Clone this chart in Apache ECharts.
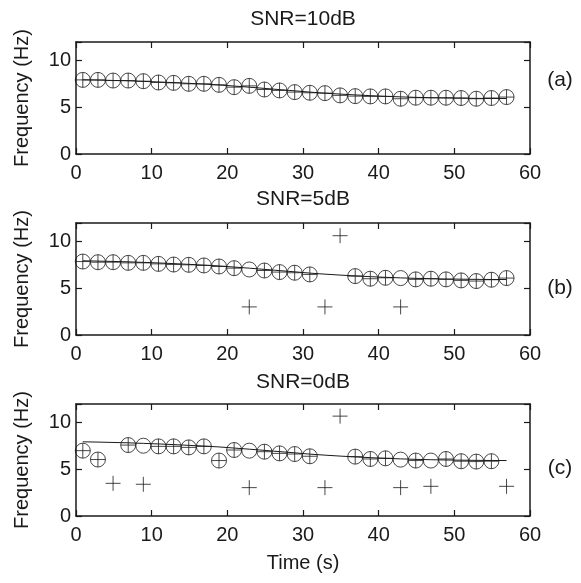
<!DOCTYPE html>
<html>
<head>
<meta charset="utf-8">
<script src="https://cdn.jsdelivr.net/npm/echarts@6/dist/echarts.min.js"></script>
<style>
html,body{margin:0;padding:0;background:#fff;}
#chart{width:581px;height:583px;}
</style>
</head>
<body>
<div id="chart"></div>
<script>
// ---- data ----
const timeS = [0.9,2.9,4.9,6.9,8.9,10.9,12.9,14.9,16.9,18.9,20.9,22.9,24.9,26.9,28.9,30.9,32.9,34.9,36.9,38.9,40.9,42.9,44.9,46.9,48.9,50.9,52.9,54.9,56.9];
const xTicks = [0,10,20,30,40,50,60];
const yTicks = [0,5,10];
const titles = ['SNR=10dB','SNR=5dB','SNR=0dB'];
const panelTags = ['(a)','(b)','(c)'];

// reference (true) frequency line
const trueFreq = [7.95,7.92,7.88,7.84,7.78,7.72,7.65,7.57,7.49,7.40,7.28,7.16,7.03,6.90,6.77,6.63,6.52,6.42,6.33,6.25,6.18,6.12,6.07,6.03,6.00,5.98,5.96,5.95,5.94];

// SNR = 10 dB
const snr10Circle = [7.94,7.94,7.87,7.87,7.80,7.66,7.62,7.52,7.52,7.41,7.16,7.30,6.91,6.81,6.63,6.56,6.52,6.28,6.20,6.17,6.17,5.92,6.03,6.03,6.03,6.00,5.92,6.00,6.10];
const snr10Plus   = [7.94,7.94,7.87,7.87,7.80,7.66,7.62,7.52,7.52,7.41,7.16,7.30,6.91,6.81,6.63,6.56,6.52,6.28,6.20,6.17,6.17,5.92,6.03,6.03,6.03,6.00,5.92,6.00,6.10];

// SNR = 5 dB
const snr5Circle = [7.87,7.80,7.80,7.73,7.73,7.62,7.55,7.52,7.45,7.34,7.16,7.02,6.91,6.74,6.67,6.49,null,null,6.31,6.03,6.13,6.10,5.96,6.03,5.96,5.85,5.78,5.92,6.10];
const snr5Plus   = [7.87,7.80,7.80,7.73,7.73,7.62,7.55,7.52,7.45,7.34,7.16,3.01,6.91,6.74,6.67,6.49,3.01,10.64,6.31,6.03,6.13,3.01,5.96,6.03,5.96,5.85,5.78,5.92,6.10];

// SNR = 0 dB
const snr0Circle = [7.00,6.05,null,7.60,7.53,7.46,7.46,7.35,7.46,5.94,7.07,7.00,6.89,6.71,6.64,6.40,null,null,6.36,6.11,6.18,6.04,5.94,5.94,6.11,5.87,5.83,5.87,null];
const snr0Plus   = [7.00,6.05,3.50,7.60,3.40,7.46,7.46,7.35,7.46,5.94,7.07,3.04,6.89,6.71,6.64,6.40,3.04,10.70,6.36,6.11,6.18,3.04,5.94,3.18,6.11,5.87,5.83,5.87,3.18];

const circleSets = [snr10Circle, snr5Circle, snr0Circle];
const plusSets = [snr10Plus, snr5Plus, snr0Plus];

// ---- chart ----
const FONT = '"Liberation Sans", Arial, Helvetica, sans-serif';
const INK = '#1a1a1a';
const gridTops = [42, 223, 404];
const GL = 76, GW = 454, GH = 112;
const XMIN = xTicks[0], XMAX = xTicks[xTicks.length-1];
const YMIN = yTicks[0], YMAX = 12, YINT = yTicks[1]-yTicks[0];
const XINT = xTicks[1]-xTicks[0];

const pair = (xs, ys) => xs.map((x,i) => ys[i] == null ? null : [x, ys[i]]).filter(d => d);

const axLine = {show: true, onZero: false, lineStyle: {color: INK, width: 1.5}};
const axTick = {show: true, inside: true, length: 6, lineStyle: {color: INK, width: 1.2}};

const grids = [], xAxes = [], yAxes = [], series = [], graphics = [];
for (let g = 0; g < 3; g++) {
  grids.push({left: GL, top: gridTops[g], width: GW, height: GH, containLabel: false});
}
for (let g = 0; g < 3; g++) {
  xAxes.push({
    type: 'value', gridIndex: g, min: XMIN, max: XMAX, interval: XINT, position: 'bottom',
    axisLine: axLine, axisTick: axTick,
    axisLabel: {show: true, color: INK, fontSize: 20, fontFamily: FONT, margin: 9},
    splitLine: {show: false},
    name: g === 2 ? 'Time (s)' : '', nameLocation: 'middle', nameGap: 37,
    nameTextStyle: {color: INK, fontSize: 20, fontFamily: FONT}
  });
}
for (let g = 0; g < 3; g++) {
  xAxes.push({
    type: 'value', gridIndex: g, min: XMIN, max: XMAX, interval: XINT, position: 'top',
    axisLine: axLine, axisTick: axTick,
    axisLabel: {show: false}, splitLine: {show: false}
  });
}
for (let g = 0; g < 3; g++) {
  yAxes.push({
    type: 'value', gridIndex: g, min: YMIN, max: YMAX, interval: YINT, position: 'left',
    axisLine: axLine, axisTick: axTick,
    axisLabel: {show: true, color: INK, fontSize: 20, fontFamily: FONT, margin: 5,
      formatter: v => (yTicks.indexOf(v) >= 0 ? String(v) : '')},
    splitLine: {show: false},
    name: 'Frequency (Hz)', nameLocation: 'middle', nameGap: 44,
    nameTextStyle: {color: INK, fontSize: 20, fontFamily: FONT}
  });
}
for (let g = 0; g < 3; g++) {
  yAxes.push({
    type: 'value', gridIndex: g, min: YMIN, max: YMAX, interval: YINT, position: 'right',
    axisLine: axLine, axisTick: axTick,
    axisLabel: {show: false}, splitLine: {show: false}
  });
}
const PLUS = 'path://M0,-1L0,1M-1,0L1,0';
for (let g = 0; g < 3; g++) {
  series.push({
    type: 'line', xAxisIndex: g, yAxisIndex: g, data: pair(timeS, trueFreq),
    showSymbol: false, symbol: 'none', lineStyle: {color: INK, width: 1}, z: 2, silent: true
  });
  series.push({
    type: 'scatter', xAxisIndex: g, yAxisIndex: g, data: pair(timeS, circleSets[g]),
    symbol: 'circle', symbolSize: 15,
    itemStyle: {color: 'rgba(0,0,0,0)', borderColor: INK, borderWidth: 1}, z: 3, silent: true
  });
  series.push({
    type: 'scatter', xAxisIndex: g, yAxisIndex: g, data: pair(timeS, plusSets[g]),
    symbol: PLUS, symbolSize: 15,
    itemStyle: {color: 'rgba(0,0,0,0)', borderColor: INK, borderWidth: 1}, z: 4, silent: true
  });
}
const titleY = [19, 199, 382.5];
const tagY = [80, 288, 468];
for (let g = 0; g < 3; g++) {
  graphics.push({type: 'text', x: GL + GW/2, y: titleY[g],
    style: {text: titles[g], fill: INK, font: '21px ' + FONT, textAlign: 'center', textVerticalAlign: 'middle'}});
  graphics.push({type: 'text', x: 560, y: tagY[g],
    style: {text: panelTags[g], fill: INK, font: '21px ' + FONT, textAlign: 'center', textVerticalAlign: 'middle'}});
}

const chart = echarts.init(document.getElementById('chart'), null, {renderer: 'canvas'});
chart.setOption({
  animation: false,
  backgroundColor: '#fff',
  grid: grids, xAxis: xAxes, yAxis: yAxes, series: series, graphic: graphics
});
</script>
</body>
</html>
